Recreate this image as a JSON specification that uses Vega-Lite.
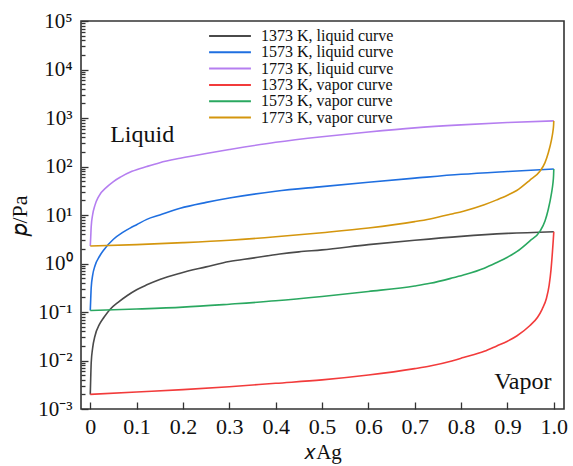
{
  "$schema": "https://vega.github.io/schema/vega-lite/v6.json",
  "width": 483,
  "height": 388,
  "autosize": {"type": "none"},
  "padding": {"left": 81, "top": 21, "right": 9, "bottom": 57},
  "background": "white",
  "config": {
    "font": "Liberation Serif",
    "view": {"stroke": "#333333", "strokeWidth": 1.6},
    "axis": {"domain": false, "grid": false, "labelFont": "Liberation Serif", "titleFont": "Liberation Serif", "labelColor": "#111", "titleColor": "#111", "tickColor": "#333", "tickWidth": 1.3}
  },
  "datasets": {
    "curves": [
      {"s": "1373 K, liquid curve", "x": 0, "p": 0.0020},
      {"s": "1373 K, liquid curve", "x": 0.001, "p": 0.0045},
      {"s": "1373 K, liquid curve", "x": 0.002, "p": 0.0089},
      {"s": "1373 K, liquid curve", "x": 0.005, "p": 0.0178},
      {"s": "1373 K, liquid curve", "x": 0.01, "p": 0.0316},
      {"s": "1373 K, liquid curve", "x": 0.02, "p": 0.056},
      {"s": "1373 K, liquid curve", "x": 0.03, "p": 0.079},
      {"s": "1373 K, liquid curve", "x": 0.043, "p": 0.114},
      {"s": "1373 K, liquid curve", "x": 0.06, "p": 0.158},
      {"s": "1373 K, liquid curve", "x": 0.08, "p": 0.219},
      {"s": "1373 K, liquid curve", "x": 0.1, "p": 0.288},
      {"s": "1373 K, liquid curve", "x": 0.122, "p": 0.363},
      {"s": "1373 K, liquid curve", "x": 0.15, "p": 0.468},
      {"s": "1373 K, liquid curve", "x": 0.194, "p": 0.631},
      {"s": "1373 K, liquid curve", "x": 0.25, "p": 0.851},
      {"s": "1373 K, liquid curve", "x": 0.3, "p": 1.10},
      {"s": "1373 K, liquid curve", "x": 0.35, "p": 1.29},
      {"s": "1373 K, liquid curve", "x": 0.409, "p": 1.57},
      {"s": "1373 K, liquid curve", "x": 0.45, "p": 1.74},
      {"s": "1373 K, liquid curve", "x": 0.5, "p": 1.91},
      {"s": "1373 K, liquid curve", "x": 0.6, "p": 2.45},
      {"s": "1373 K, liquid curve", "x": 0.7, "p": 3.02},
      {"s": "1373 K, liquid curve", "x": 0.8, "p": 3.63},
      {"s": "1373 K, liquid curve", "x": 0.9, "p": 4.17},
      {"s": "1373 K, liquid curve", "x": 1.0, "p": 4.53},

      {"s": "1573 K, liquid curve", "x": 0, "p": 0.107},
      {"s": "1573 K, liquid curve", "x": 0.001, "p": 0.19},
      {"s": "1573 K, liquid curve", "x": 0.002, "p": 0.316},
      {"s": "1573 K, liquid curve", "x": 0.005, "p": 0.562},
      {"s": "1573 K, liquid curve", "x": 0.01, "p": 0.891},
      {"s": "1573 K, liquid curve", "x": 0.02, "p": 1.41},
      {"s": "1573 K, liquid curve", "x": 0.03, "p": 1.95},
      {"s": "1573 K, liquid curve", "x": 0.05, "p": 3.16},
      {"s": "1573 K, liquid curve", "x": 0.07, "p": 4.37},
      {"s": "1573 K, liquid curve", "x": 0.086, "p": 5.37},
      {"s": "1573 K, liquid curve", "x": 0.1, "p": 6.31},
      {"s": "1573 K, liquid curve", "x": 0.122, "p": 8.13},
      {"s": "1573 K, liquid curve", "x": 0.15, "p": 10.0},
      {"s": "1573 K, liquid curve", "x": 0.194, "p": 13.8},
      {"s": "1573 K, liquid curve", "x": 0.25, "p": 18.2},
      {"s": "1573 K, liquid curve", "x": 0.3, "p": 22.4},
      {"s": "1573 K, liquid curve", "x": 0.4, "p": 30.9},
      {"s": "1573 K, liquid curve", "x": 0.5, "p": 38.5},
      {"s": "1573 K, liquid curve", "x": 0.6, "p": 47.5},
      {"s": "1573 K, liquid curve", "x": 0.7, "p": 57.5},
      {"s": "1573 K, liquid curve", "x": 0.8, "p": 69.0},
      {"s": "1573 K, liquid curve", "x": 0.9, "p": 79.0},
      {"s": "1573 K, liquid curve", "x": 1.0, "p": 89.1},

      {"s": "1773 K, liquid curve", "x": 0, "p": 2.29},
      {"s": "1773 K, liquid curve", "x": 0.001, "p": 3.55},
      {"s": "1773 K, liquid curve", "x": 0.002, "p": 5.75},
      {"s": "1773 K, liquid curve", "x": 0.005, "p": 10.0},
      {"s": "1773 K, liquid curve", "x": 0.01, "p": 15.8},
      {"s": "1773 K, liquid curve", "x": 0.018, "p": 24.0},
      {"s": "1773 K, liquid curve", "x": 0.036, "p": 38.0},
      {"s": "1773 K, liquid curve", "x": 0.05, "p": 49.0},
      {"s": "1773 K, liquid curve", "x": 0.065, "p": 60.3},
      {"s": "1773 K, liquid curve", "x": 0.09, "p": 79.4},
      {"s": "1773 K, liquid curve", "x": 0.122, "p": 100},
      {"s": "1773 K, liquid curve", "x": 0.15, "p": 120},
      {"s": "1773 K, liquid curve", "x": 0.194, "p": 148},
      {"s": "1773 K, liquid curve", "x": 0.25, "p": 186},
      {"s": "1773 K, liquid curve", "x": 0.3, "p": 224},
      {"s": "1773 K, liquid curve", "x": 0.4, "p": 316},
      {"s": "1773 K, liquid curve", "x": 0.5, "p": 412},
      {"s": "1773 K, liquid curve", "x": 0.6, "p": 515},
      {"s": "1773 K, liquid curve", "x": 0.7, "p": 625},
      {"s": "1773 K, liquid curve", "x": 0.8, "p": 720},
      {"s": "1773 K, liquid curve", "x": 0.9, "p": 805},
      {"s": "1773 K, liquid curve", "x": 1.0, "p": 871},

      {"s": "1373 K, vapor curve", "x": 0, "p": 0.0020},
      {"s": "1373 K, vapor curve", "x": 0.1, "p": 0.00224},
      {"s": "1373 K, vapor curve", "x": 0.2, "p": 0.00251},
      {"s": "1373 K, vapor curve", "x": 0.3, "p": 0.00288},
      {"s": "1373 K, vapor curve", "x": 0.4, "p": 0.00339},
      {"s": "1373 K, vapor curve", "x": 0.5, "p": 0.00398},
      {"s": "1373 K, vapor curve", "x": 0.6, "p": 0.00501},
      {"s": "1373 K, vapor curve", "x": 0.7, "p": 0.0068},
      {"s": "1373 K, vapor curve", "x": 0.733, "p": 0.0077},
      {"s": "1373 K, vapor curve", "x": 0.78, "p": 0.0098},
      {"s": "1373 K, vapor curve", "x": 0.805, "p": 0.0115},
      {"s": "1373 K, vapor curve", "x": 0.85, "p": 0.0155},
      {"s": "1373 K, vapor curve", "x": 0.877, "p": 0.020},
      {"s": "1373 K, vapor curve", "x": 0.9, "p": 0.025},
      {"s": "1373 K, vapor curve", "x": 0.92, "p": 0.032},
      {"s": "1373 K, vapor curve", "x": 0.948, "p": 0.052},
      {"s": "1373 K, vapor curve", "x": 0.965, "p": 0.078},
      {"s": "1373 K, vapor curve", "x": 0.975, "p": 0.115},
      {"s": "1373 K, vapor curve", "x": 0.984, "p": 0.19},
      {"s": "1373 K, vapor curve", "x": 0.99, "p": 0.36},
      {"s": "1373 K, vapor curve", "x": 0.994, "p": 0.75},
      {"s": "1373 K, vapor curve", "x": 0.997, "p": 1.7},
      {"s": "1373 K, vapor curve", "x": 0.999, "p": 3.2},
      {"s": "1373 K, vapor curve", "x": 1.0, "p": 4.53},

      {"s": "1573 K, vapor curve", "x": 0, "p": 0.107},
      {"s": "1573 K, vapor curve", "x": 0.1, "p": 0.115},
      {"s": "1573 K, vapor curve", "x": 0.2, "p": 0.126},
      {"s": "1573 K, vapor curve", "x": 0.3, "p": 0.145},
      {"s": "1573 K, vapor curve", "x": 0.4, "p": 0.170},
      {"s": "1573 K, vapor curve", "x": 0.5, "p": 0.209},
      {"s": "1573 K, vapor curve", "x": 0.6, "p": 0.265},
      {"s": "1573 K, vapor curve", "x": 0.7, "p": 0.345},
      {"s": "1573 K, vapor curve", "x": 0.733, "p": 0.39},
      {"s": "1573 K, vapor curve", "x": 0.78, "p": 0.50},
      {"s": "1573 K, vapor curve", "x": 0.805, "p": 0.58},
      {"s": "1573 K, vapor curve", "x": 0.85, "p": 0.80},
      {"s": "1573 K, vapor curve", "x": 0.877, "p": 1.05},
      {"s": "1573 K, vapor curve", "x": 0.9, "p": 1.35},
      {"s": "1573 K, vapor curve", "x": 0.92, "p": 1.75},
      {"s": "1573 K, vapor curve", "x": 0.948, "p": 2.9},
      {"s": "1573 K, vapor curve", "x": 0.97, "p": 4.6},
      {"s": "1573 K, vapor curve", "x": 0.981, "p": 7.5},
      {"s": "1573 K, vapor curve", "x": 0.988, "p": 13},
      {"s": "1573 K, vapor curve", "x": 0.995, "p": 28},
      {"s": "1573 K, vapor curve", "x": 0.998, "p": 44},
      {"s": "1573 K, vapor curve", "x": 0.9995, "p": 65},
      {"s": "1573 K, vapor curve", "x": 1.0, "p": 89.1},

      {"s": "1773 K, vapor curve", "x": 0, "p": 2.29},
      {"s": "1773 K, vapor curve", "x": 0.1, "p": 2.45},
      {"s": "1773 K, vapor curve", "x": 0.2, "p": 2.69},
      {"s": "1773 K, vapor curve", "x": 0.3, "p": 3.02},
      {"s": "1773 K, vapor curve", "x": 0.4, "p": 3.55},
      {"s": "1773 K, vapor curve", "x": 0.5, "p": 4.32},
      {"s": "1773 K, vapor curve", "x": 0.6, "p": 5.40},
      {"s": "1773 K, vapor curve", "x": 0.7, "p": 7.3},
      {"s": "1773 K, vapor curve", "x": 0.733, "p": 8.3},
      {"s": "1773 K, vapor curve", "x": 0.78, "p": 10.5},
      {"s": "1773 K, vapor curve", "x": 0.805, "p": 12.0},
      {"s": "1773 K, vapor curve", "x": 0.85, "p": 16.3},
      {"s": "1773 K, vapor curve", "x": 0.877, "p": 20.5},
      {"s": "1773 K, vapor curve", "x": 0.9, "p": 25.5},
      {"s": "1773 K, vapor curve", "x": 0.92, "p": 32},
      {"s": "1773 K, vapor curve", "x": 0.948, "p": 52},
      {"s": "1773 K, vapor curve", "x": 0.97, "p": 80},
      {"s": "1773 K, vapor curve", "x": 0.981, "p": 120},
      {"s": "1773 K, vapor curve", "x": 0.988, "p": 190},
      {"s": "1773 K, vapor curve", "x": 0.995, "p": 355},
      {"s": "1773 K, vapor curve", "x": 0.998, "p": 520},
      {"s": "1773 K, vapor curve", "x": 0.9995, "p": 700},
      {"s": "1773 K, vapor curve", "x": 1.0, "p": 871}
    ]
  },
  "layer": [
    {
      "data": {"name": "curves"},
      "mark": {"type": "line", "strokeWidth": 1.6, "interpolate": "monotone"},
      "encoding": {
        "x": {
          "field": "x", "type": "quantitative",
          "scale": {"domain": [-0.02, 1.022], "nice": false, "zero": false},
          "axis": {
            "values": [0, 0.1, 0.2, 0.3, 0.4, 0.5, 0.6, 0.7, 0.8, 0.9, 1.0],
            "labelExpr": "datum.value == 0 ? '0' : format(datum.value, '.1f')",
            "tickSize": -7, "labelPadding": 14, "labelFontSize": 22, "labelFont": "Liberation Serif",
            "title": "𝑥Ag", "titleFont": "Liberation Serif", "titleFontSize": 21, "titleFontWeight": "normal", "titlePadding": 4
          }
        },
        "y": {
          "field": "p", "type": "quantitative",
          "scale": {"type": "log", "domain": [0.001, 100000], "nice": false},
          "axis": {
            "values": [0.001,0.002,0.003,0.004,0.005,0.006,0.007,0.008,0.009,0.01,0.02,0.03,0.04,0.05,0.06,0.07,0.08,0.09,0.1,0.2,0.3,0.4,0.5,0.6,0.7,0.8,0.9,1,2,3,4,5,6,7,8,9,10,20,30,40,50,60,70,80,90,100,200,300,400,500,600,700,800,900,1000,2000,3000,4000,5000,6000,7000,8000,9000,10000,20000,30000,40000,50000,60000,70000,80000,90000,100000],
            "labelExpr": "abs(log(datum.value)/LN10 - round(log(datum.value)/LN10)) < 0.000001 ? ['10⁻³','10⁻²','10⁻¹','10⁰','10¹','10²','10³','10⁴','10⁵'][round(log(datum.value)/LN10)+3] : ''",
            "tickSize": {"condition": {"test": "abs(log(datum.value)/LN10 - round(log(datum.value)/LN10)) < 0.000001", "value": -7}, "value": -4},
            "labelPadding": 16, "labelFontSize": 21, "labelFont": "Liberation Serif", "labelOverlap": false, "labelFlush": false, "labelBound": false,
            "title": "𝑝/Pa", "titleFont": "Liberation Serif", "titleFontSize": 22, "titleFontWeight": "normal", "titlePadding": 6
          }
        },
        "color": {
          "field": "s", "type": "nominal",
          "scale": {
            "domain": ["1373 K, liquid curve", "1573 K, liquid curve", "1773 K, liquid curve", "1373 K, vapor curve", "1573 K, vapor curve", "1773 K, vapor curve"],
            "range": ["#4a4a4a", "#1f6fe0", "#b57ef0", "#f23b3b", "#2aa860", "#d4960e"]
          },
          "legend": {
            "title": null, "orient": "none", "legendX": 141, "legendY": 7,
            "symbolType": "M-5,0H5", "symbolSize": 70, "symbolStrokeWidth": 2,
            "labelFont": "Liberation Serif", "labelFontSize": 16, "labelColor": "#111",
            "labelOffset": 23, "rowPadding": 0.3, "padding": 0
          }
        }
      }
    },
    {
      "data": {"values": [{"x": 0.043, "p": 447, "t": "Liquid"}]},
      "mark": {"type": "text", "align": "left", "baseline": "middle", "fontSize": 24, "font": "Liberation Serif", "color": "#111"},
      "encoding": {
        "x": {"field": "x", "type": "quantitative"},
        "y": {"field": "p", "type": "quantitative"},
        "text": {"field": "t"}
      }
    },
    {
      "data": {"values": [{"x": 0.995, "p": 0.00366, "t": "Vapor"}]},
      "mark": {"type": "text", "align": "right", "baseline": "middle", "fontSize": 24, "font": "Liberation Serif", "color": "#111"},
      "encoding": {
        "x": {"field": "x", "type": "quantitative"},
        "y": {"field": "p", "type": "quantitative"},
        "text": {"field": "t"}
      }
    }
  ]
}
